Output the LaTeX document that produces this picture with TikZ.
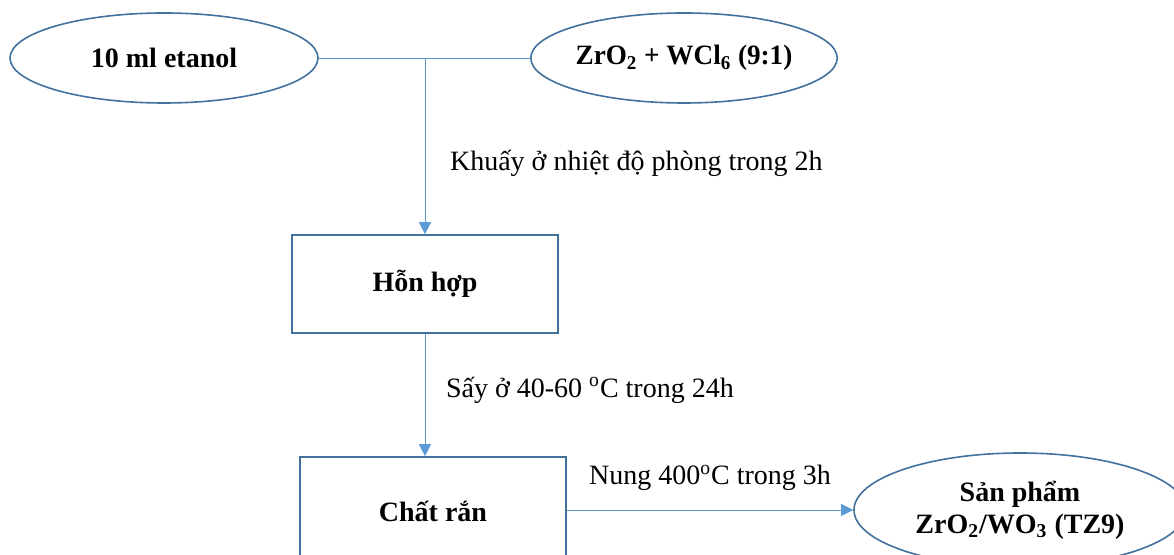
\documentclass[tikz,border=0pt]{standalone}
\usepackage{fontspec}
\setmainfont{Liberation Serif}
\usetikzlibrary{shapes.geometric,arrows.meta}
\definecolor{outline}{HTML}{41719C}
\definecolor{link}{HTML}{5B9BD5}
\begin{document}
\begin{tikzpicture}[x=0.5pt,y=-0.5pt,
  font=\fontsize{14}{16}\selectfont,
  oval/.style={ellipse,draw=outline,thick,inner sep=0pt,font=\fontsize{14}{16}\selectfont\bfseries},
  stage/.style={rectangle,draw=outline,thick,inner sep=0pt,font=\fontsize{14}{16}\selectfont\bfseries},
  flow/.style={draw=link,-{Triangle[length=6pt,width=6pt]}}]
\useasboundingbox (0,0) rectangle (1174,555);
\node (etanol) [oval,minimum width=154pt,minimum height=45pt] at (164,58) {10 ml etanol};
\node (zro2) [oval,minimum width=150pt,minimum height=45pt,xscale=0.97] at (684,58) {ZrO\textsubscript{2} + WCl\textsubscript{6} (9:1)};
\node (honhop) [stage,minimum width=133pt,minimum height=49pt] at (425,284) {Hỗn hợp};
\node (chatran) [stage,minimum width=133pt,minimum height=54pt] at (433,511) {Chất rắn};
\node (sanpham) [oval,minimum width=166pt,minimum height=57pt,align=center] at (1020,510) {Sản phẩm\\ZrO\textsubscript{2}/WO\textsubscript{3} (TZ9)};
\coordinate (join) at (425,58);
\draw [draw=link] (etanol.east) -- (zro2.west);
\draw [flow] (join) -- node [right=9pt,pos=0.6] {Khuấy ở nhiệt độ phòng trong 2h} (honhop.north);
\draw [flow] (honhop.south) -- node [right=7pt,pos=0.46] {Sấy ở 40-60 \textsuperscript{o}C trong 24h} (honhop.south |- chatran.north);
\draw [flow] (chatran.east |- sanpham.west) -- node [above=6pt] {Nung 400\textsuperscript{o}C trong 3h} (sanpham.west);
\end{tikzpicture}
\end{document}
